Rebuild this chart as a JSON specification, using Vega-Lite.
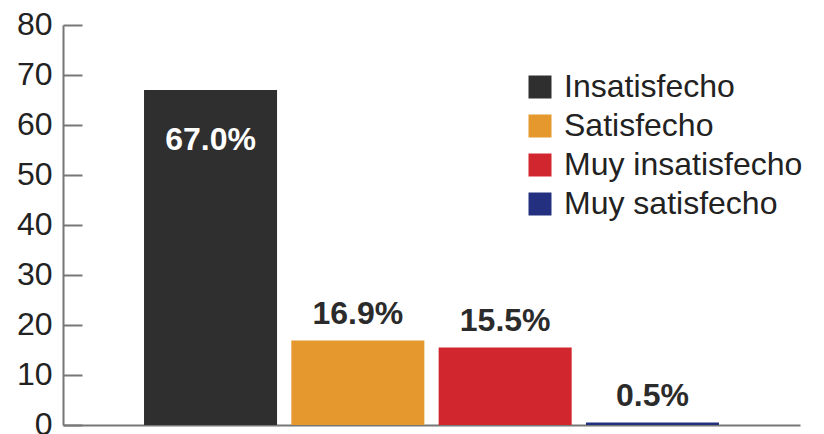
{
  "$schema": "https://vega.github.io/schema/vega-lite/v6.json",
  "autosize": {"type": "none"},
  "padding": {"left": 63, "top": 25, "right": 24, "bottom": 9},
  "width": 737,
  "height": 400,
  "background": "white",
  "config": {
    "view": {"stroke": null},
    "font": "Liberation Sans"
  },
  "data": {
    "values": [
      {"categoria": "Insatisfecho", "valor": 67.0, "etiqueta": "67.0%"},
      {"categoria": "Satisfecho", "valor": 16.9, "etiqueta": "16.9%"},
      {"categoria": "Muy insatisfecho", "valor": 15.5, "etiqueta": "15.5%"},
      {"categoria": "Muy satisfecho", "valor": 0.5, "etiqueta": "0.5%"}
    ]
  },
  "encoding": {
    "x": {
      "field": "categoria",
      "type": "nominal",
      "sort": ["Insatisfecho", "Satisfecho", "Muy insatisfecho", "Muy satisfecho"],
      "scale": {"paddingInner": 0.097, "paddingOuter": 0.55},
      "axis": {
        "title": null,
        "labels": false,
        "ticks": false,
        "domainColor": "#777777",
        "domainWidth": 2
      }
    }
  },
  "layer": [
    {
      "mark": {"type": "bar"},
      "encoding": {
        "y": {
          "field": "valor",
          "type": "quantitative",
          "scale": {"domain": [0, 80]},
          "axis": {
            "title": null,
            "values": [0, 10, 20, 30, 40, 50, 60, 70, 80],
            "grid": false,
            "tickSize": -19,
            "labelPadding": 30,
            "tickColor": "#777777",
            "tickWidth": 2,
            "domainColor": "#777777",
            "domainWidth": 2,
            "labelFontSize": 32,
            "labelColor": "#222222",
            "labelFont": "Liberation Sans",
            "labelOffset": -1
          }
        },
        "color": {
          "field": "categoria",
          "type": "nominal",
          "sort": ["Insatisfecho", "Satisfecho", "Muy insatisfecho", "Muy satisfecho"],
          "scale": {
            "domain": ["Insatisfecho", "Satisfecho", "Muy insatisfecho", "Muy satisfecho"],
            "range": ["#2e2f2e", "#e4982e", "#d2262e", "#22307f"]
          },
          "legend": {
            "title": null,
            "orient": "none",
            "legendX": 461,
            "legendY": 46,
            "symbolType": "square",
            "symbolSize": 529,
            "symbolStrokeWidth": 0,
            "labelFontSize": 32,
            "labelColor": "#222222",
            "labelFont": "Liberation Sans",
            "labelOffset": 8,
            "rowPadding": 7,
            "labelLimit": 400
          }
        }
      }
    },
    {
      "transform": [{"filter": "datum.valor < 50"}],
      "mark": {"type": "text", "baseline": "alphabetic", "dy": -17, "fontSize": 32, "fontWeight": "bold", "color": "#2b2b2b"},
      "encoding": {
        "y": {"field": "valor", "type": "quantitative"},
        "text": {"field": "etiqueta"}
      }
    },
    {
      "transform": [{"filter": "datum.valor >= 50"}],
      "mark": {"type": "text", "baseline": "middle", "dy": 50, "fontSize": 32, "fontWeight": "bold", "color": "white"},
      "encoding": {
        "y": {"field": "valor", "type": "quantitative"},
        "text": {"field": "etiqueta"}
      }
    }
  ]
}
